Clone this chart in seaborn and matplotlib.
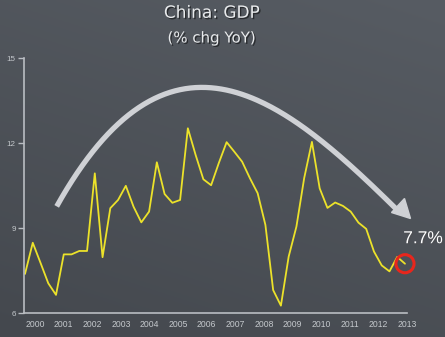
import numpy as np
import matplotlib
matplotlib.use("Agg")
import matplotlib.pyplot as plt
import matplotlib.patheffects as pe
from matplotlib.patches import Polygon
import seaborn as sns

# ---- data ----
gdp_yoy = [7.39, 8.49, 7.78, 7.06, 6.65, 8.08, 8.08, 8.20, 8.20, 10.94,
           7.98, 9.71, 10.00, 10.50, 9.76, 9.21, 9.59, 11.33, 10.21, 9.90,
           10.00, 12.53, 11.59, 10.73, 10.52, 11.31, 12.04, 11.70, 11.35, 10.77,
           10.24, 9.12, 6.82, 6.27, 8.00, 9.06, 10.77, 12.05, 10.41, 9.72,
           9.91, 9.79, 9.59, 9.20, 8.98, 8.18, 7.69, 7.48, 7.99, 7.75]
quarter_idx = list(range(len(gdp_yoy)))
year_labels = ["2000", "2001", "2002", "2003", "2004", "2005", "2006",
               "2007", "2008", "2009", "2010", "2011", "2012", "2013"]
y_ticks = [6, 9, 12, 15]
title_lines = ["China: GDP", "(% chg YoY)"]
last_label = "7.7%"

sns.set_theme(style="white")
plt.rcParams["font.family"] = ["DejaVu Sans"]

W, H = 445, 337
fig = plt.figure(figsize=(W / 100, H / 100), dpi=100)

# chalkboard background
bg = fig.add_axes([0, 0, 1, 1])
gy = np.linspace(0, 1, 200)[:, None]
gx = np.linspace(0, 1, 200)[None, :]
top = np.array([0x57, 0x5c, 0x63]) / 255
bot = np.array([0x44, 0x48, 0x4e]) / 255
t = (0.7 * gy + 0.3 * (1 - gx))
t = np.clip(t, 0, 1)
img = top[None, None, :] * (1 - t[..., None]) + bot[None, None, :] * t[..., None]
bg.imshow(img, aspect="auto", extent=[0, 1, 0, 1], origin="upper")
bg.set_axis_off()

# main axes
ax = fig.add_axes([24 / W, (H - 313.3) / H, (407 - 24) / W, (313.3 - 58.3) / H])
ax.patch.set_alpha(0)
sns.lineplot(x=quarter_idx, y=gdp_yoy, ax=ax, color="#ece22a", linewidth=1.3)

ax.set_ylim(6, 15)
ax.set_xlim(-0.13, 49.26)
ax.set_yticks(y_ticks)
ax.set_yticklabels([str(v) for v in y_ticks])
xt = [1.29 + 3.69 * k for k in range(len(year_labels))]
ax.set_xticks(xt)
ax.set_xticklabels(year_labels)
for s in ["top", "right"]:
    ax.spines[s].set_visible(False)
axis_col = "#b9bdc2"
for s in ["left", "bottom"]:
    ax.spines[s].set_color(axis_col)
    ax.spines[s].set_linewidth(1.2)
ax.tick_params(axis="y", length=4, width=1, color=axis_col, colors="#c4c8cc",
               labelsize=5.8, pad=2, left=True)
ax.tick_params(axis="x", length=0, colors="#c4c8cc", labelsize=6.2, pad=5)
for lab in ax.get_xticklabels() + ax.get_yticklabels():
    lab.set_fontfamily("Liberation Sans")
ax.set_xlabel("")
ax.set_ylabel("")

# red ring around last point
ax.scatter([quarter_idx[-1]], [gdp_yoy[-1]], s=170, facecolors="none",
           edgecolors="#e8261c", linewidths=2.2, zorder=5, clip_on=False)
ax.annotate(last_label, (quarter_idx[-1], gdp_yoy[-1]), xytext=(13, 18),
            textcoords="offset points", ha="center", va="center",
            color="white", fontsize=12.5, family="Liberation Sans",
            annotation_clip=False,
            path_effects=[pe.withSimplePatchShadow(offset=(1, -1), alpha=0.4)])

# titles
shadow = [pe.withSimplePatchShadow(offset=(1, -1), shadow_rgbFace="black", alpha=0.5)]
fig.text(211.7 / W, 1 - 12.8 / H, title_lines[0], ha="center", va="center",
         color="#e8eaec", fontsize=12.2, path_effects=shadow)
fig.text(211.7 / W, 1 - 38 / H, title_lines[1], ha="center", va="center",
         color="#e8eaec", fontsize=10.8, path_effects=shadow)

# big chalk arrow (decoration) in pixel coordinates
ov = fig.add_axes([0, 0, 1, 1])
ov.set_xlim(0, W)
ov.set_ylim(H, 0)
ov.set_axis_off()
ov.patch.set_alpha(0)
ax_pts = np.array([[56.7, 203.3], [106.7, 141.7], [173, 90], [205, 87],
                   [240, 90], [296.7, 121.7], [363, 185], [399, 207]])
coef = np.polyfit(ax_pts[:, 0], ax_pts[:, 1], 3)
xs = np.linspace(56.7, 398, 200)
ov.plot(xs, np.polyval(coef, xs), color="#cfd1d5", lw=3.8,
        solid_capstyle="butt", zorder=3)
head = Polygon([[410.5, 218.5], [391.5, 212.5], [404.5, 198.5]], closed=True,
               color="#cfd1d5", zorder=3)
ov.add_patch(head)

fig.savefig("out.png", dpi=100)
